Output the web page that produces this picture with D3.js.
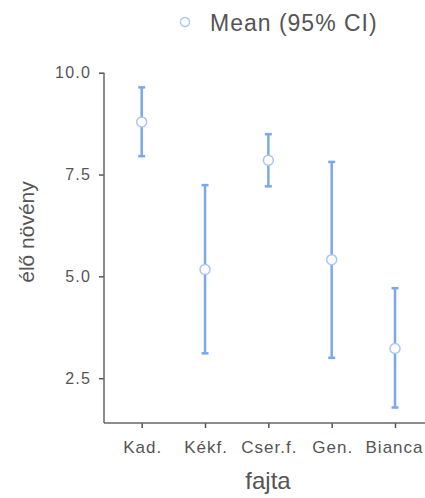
<!DOCTYPE html>
<html>
<head>
<meta charset="utf-8">
<script src="https://cdn.jsdelivr.net/npm/d3@7"></script>
<style>
  body { margin: 0; background: #fff; }
  text { font-family: "Liberation Sans", Arial, sans-serif; fill: #555; }
</style>
</head>
<body>
<script>
const categories = ["Kad.", "Kékf.", "Cser.f.", "Gen.", "Bianca"]
const means = [8.79, 5.17, 7.85, 5.41, 3.23]
const lower = [7.95, 3.11, 7.21, 3.00, 1.78]
const upper = [9.64, 7.24, 8.49, 7.81, 4.71]
const yTicks = [2.5, 5.0, 7.5, 10.0]

const width = 425, height = 498
const plotLeft = 104, plotRight = 425, plotTop = 72.7, plotBottom = 423

const svg = d3.select("body").append("svg")
    .attr("width", width)
    .attr("height", height)

const x = d3.scalePoint()
    .domain(categories)
    .range([141.7, 395])

const y = d3.scaleLinear()
    .domain([1.4, 10])
    .range([plotBottom, plotTop])

// axes
const yAxis = svg.append("g")
    .attr("transform", `translate(${plotLeft},0)`)
    .call(d3.axisLeft(y).tickValues(yTicks).tickFormat(d3.format(".1f")).tickSize(5).tickPadding(8))
const xAxis = svg.append("g")
    .attr("transform", `translate(0,${plotBottom})`)
    .call(d3.axisBottom(x).tickSize(5).tickPadding(13))

svg.selectAll(".domain").remove()
svg.selectAll(".tick line").attr("stroke", "#555").attr("stroke-width", 1.5)
yAxis.selectAll("text").style("font-size", "16px").attr("fill", "#555").style("letter-spacing", "1.2px")
xAxis.selectAll("text").style("font-size", "17px").attr("fill", "#555").style("letter-spacing", "1px")
    .attr("dx", 0.5)
xAxis.selectAll(".tick:last-of-type text").attr("dx", -1)

svg.append("line")
    .attr("x1", plotLeft).attr("x2", plotLeft)
    .attr("y1", plotTop).attr("y2", plotBottom)
    .attr("stroke", "#666").attr("stroke-width", 1.5)
svg.append("line")
    .attr("x1", plotLeft).attr("x2", plotRight)
    .attr("y1", plotBottom).attr("y2", plotBottom)
    .attr("stroke", "#666").attr("stroke-width", 1.5)

// error bars
const lineColor = "#7aa7ee"
const g = svg.append("g")
categories.forEach((c, i) => {
    const cx = x(c)
    g.append("line")
        .attr("x1", cx).attr("x2", cx)
        .attr("y1", y(lower[i])).attr("y2", y(upper[i]))
        .attr("stroke", lineColor).attr("stroke-width", 2.5)
    ;[lower[i], upper[i]].forEach(v => {
        g.append("line")
            .attr("x1", cx - 3.5).attr("x2", cx + 3.5)
            .attr("y1", y(v)).attr("y2", y(v))
            .attr("stroke", lineColor).attr("stroke-width", 2.5)
    })
    g.append("circle")
        .attr("cx", cx).attr("cy", y(means[i]))
        .attr("r", 5)
        .attr("fill", "#fff")
        .attr("stroke", "#a9c6f5")
        .attr("stroke-width", 1.5)
})

// titles
svg.append("text")
    .attr("transform", "translate(34,232) rotate(-90)")
    .attr("text-anchor", "middle")
    .style("font-size", "21px")
    .text("élő növény")
svg.append("text")
    .attr("x", 268).attr("y", 489)
    .attr("text-anchor", "middle")
    .style("font-size", "24px")
    .text("fajta")

// legend
svg.append("circle")
    .attr("cx", 185).attr("cy", 22).attr("r", 4.5)
    .attr("fill", "#fff").attr("stroke", "#a9c6f5").attr("stroke-width", 1.5)
svg.append("text")
    .attr("x", 210).attr("y", 31)
    .style("font-size", "23px")
    .style("letter-spacing", "1px")
    .text("Mean (95% CI)")
</script>
</body>
</html>
